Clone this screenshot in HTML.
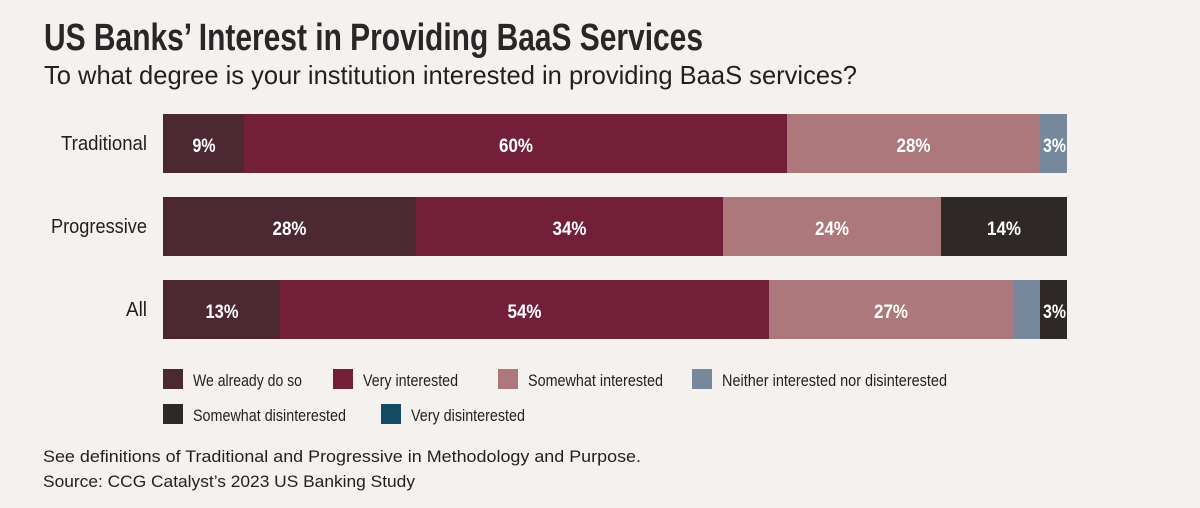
<!DOCTYPE html>
<html><head><meta charset="utf-8"><style>
html,body{margin:0;padding:0;background:#f4f1ee;}
svg{display:block;}
</style></head><body>
<svg width="1200" height="508" viewBox="0 0 1200 508" xmlns="http://www.w3.org/2000/svg" font-family="'Liberation Sans', sans-serif">
<rect width="1200" height="508" fill="#f4f1ee"/>
<text x="44" y="50" font-size="38" font-weight="bold" fill="#2a2526" textLength="659" lengthAdjust="spacingAndGlyphs">US Banks’ Interest in Providing BaaS Services</text>
<text x="44" y="84" font-size="26" fill="#231f20" textLength="813" lengthAdjust="spacingAndGlyphs">To what degree is your institution interested in providing BaaS services?</text>

<g font-size="20" fill="#231f20" text-anchor="end">
<text x="147" y="150" textLength="86" lengthAdjust="spacingAndGlyphs">Traditional</text>
<text x="147" y="233" textLength="96" lengthAdjust="spacingAndGlyphs">Progressive</text>
<text x="147" y="316" textLength="21" lengthAdjust="spacingAndGlyphs">All</text>
</g>

<!-- Traditional -->
<rect x="163" y="114" width="81" height="59" fill="#4b2832"/>
<rect x="244" y="114" width="543" height="59" fill="#741f39"/>
<rect x="787" y="114" width="253" height="59" fill="#ad787b"/>
<rect x="1040" y="114" width="27" height="59" fill="#76899c"/>
<!-- Progressive -->
<rect x="163" y="197" width="253" height="59" fill="#4b2832"/>
<rect x="416" y="197" width="307" height="59" fill="#741f39"/>
<rect x="723" y="197" width="218" height="59" fill="#ad787b"/>
<rect x="941" y="197" width="126" height="59" fill="#2e2826"/>
<!-- All -->
<rect x="163" y="280" width="117" height="59" fill="#4b2832"/>
<rect x="280" y="280" width="489" height="59" fill="#741f39"/>
<rect x="769" y="280" width="245" height="59" fill="#ad787b"/>
<rect x="1014" y="280" width="26" height="59" fill="#76899c"/>
<rect x="1040" y="280" width="27" height="59" fill="#2e2826"/>

<g font-size="19" font-weight="bold" fill="#ffffff" text-anchor="middle">
<text x="204" y="152" textLength="23" lengthAdjust="spacingAndGlyphs">9%</text>
<text x="516" y="152" textLength="34" lengthAdjust="spacingAndGlyphs">60%</text>
<text x="913.5" y="152" textLength="34" lengthAdjust="spacingAndGlyphs">28%</text>
<text x="1054.5" y="152" textLength="23" lengthAdjust="spacingAndGlyphs">3%</text>
<text x="289.5" y="235" textLength="34" lengthAdjust="spacingAndGlyphs">28%</text>
<text x="569.5" y="235" textLength="34" lengthAdjust="spacingAndGlyphs">34%</text>
<text x="832" y="235" textLength="34" lengthAdjust="spacingAndGlyphs">24%</text>
<text x="1004" y="235" textLength="34" lengthAdjust="spacingAndGlyphs">14%</text>
<text x="222" y="318" textLength="33" lengthAdjust="spacingAndGlyphs">13%</text>
<text x="524.5" y="318" textLength="34" lengthAdjust="spacingAndGlyphs">54%</text>
<text x="891" y="318" textLength="34" lengthAdjust="spacingAndGlyphs">27%</text>
<text x="1054.5" y="318" textLength="23" lengthAdjust="spacingAndGlyphs">3%</text>
</g>

<!-- Legend -->
<rect x="163" y="369" width="20" height="20" fill="#4b2832"/>
<rect x="333" y="369" width="20" height="20" fill="#741f39"/>
<rect x="498" y="369" width="20" height="20" fill="#ad787b"/>
<rect x="692" y="369" width="20" height="20" fill="#76899c"/>
<rect x="163" y="404" width="20" height="20" fill="#2e2826"/>
<rect x="381" y="404" width="20" height="20" fill="#134b62"/>
<g font-size="16.5" fill="#231f20">
<text x="193" y="386" textLength="109" lengthAdjust="spacingAndGlyphs">We already do so</text>
<text x="363" y="386" textLength="95" lengthAdjust="spacingAndGlyphs">Very interested</text>
<text x="528" y="386" textLength="135" lengthAdjust="spacingAndGlyphs">Somewhat interested</text>
<text x="722" y="386" textLength="225" lengthAdjust="spacingAndGlyphs">Neither interested nor disinterested</text>
<text x="193" y="421" textLength="153" lengthAdjust="spacingAndGlyphs">Somewhat disinterested</text>
<text x="411" y="421" textLength="114" lengthAdjust="spacingAndGlyphs">Very disinterested</text>
</g>

<g font-size="17" fill="#231f20">
<text x="43" y="462" textLength="598" lengthAdjust="spacingAndGlyphs">See definitions of Traditional and Progressive in Methodology and Purpose.</text>
<text x="43" y="487" textLength="372" lengthAdjust="spacingAndGlyphs">Source: CCG Catalyst’s 2023 US Banking Study</text>
</g>
</svg>
</body></html>
